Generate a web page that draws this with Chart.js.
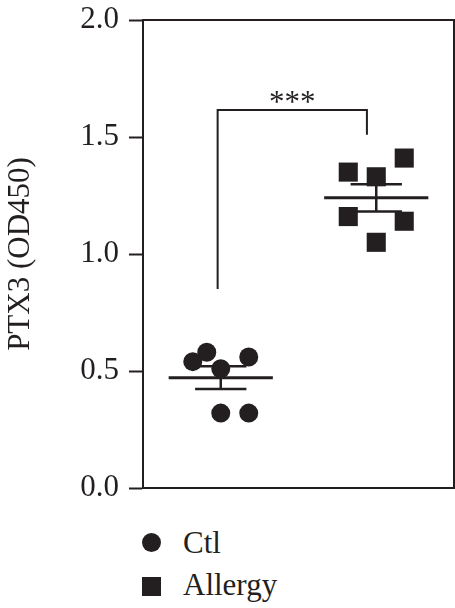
<!DOCTYPE html>
<html>
<head>
<meta charset="utf-8">
<script src="https://cdn.jsdelivr.net/npm/chart.js@4.4.0/dist/chart.umd.min.js"></script>
<style>
  html, body { margin: 0; padding: 0; background: #fff; }
  #wrap { position: relative; width: 455px; height: 608px; }
  #box { position: absolute; left: 0; top: 0; width: 455px; height: 520px; }
  .mark { position: absolute; left: 142px; width: 19px; height: 19px; background: #231f20; }
  .txt { position: absolute; left: 183px; height: 31px; line-height: 31px;
         font-family: "Liberation Serif", "DejaVu Serif", serif; font-size: 31px; color: #231f20; white-space: nowrap; }
</style>
</head>
<body>
<div id="wrap">
  <div id="box"><canvas id="chart-ptx3"></canvas></div>
  <div class="mark" style="top:533px;border-radius:50%"></div>
  <div class="txt" style="top:527px">Ctl</div>
  <div class="mark" style="top:577px"></div>
  <div class="txt" style="top:569px">Allergy</div>
</div>
<script>
// values
const groups = ['Ctl', 'Allergy'];
const ctl = [0.54, 0.58, 0.51, 0.56, 0.32, 0.32];
const allergy = [1.35, 1.33, 1.41, 1.16, 1.14, 1.05];
// horizontal scatter of the dots inside each group
const ctlJitter = [-0.18, -0.09, 0, 0.18, 0, 0.18];
const allergyJitter = [-0.18, 0, 0.18, -0.18, 0.18, 0];
const yTicks = [0, 0.5, 1.0, 1.5, 2.0];

const ink = '#231f20';
const serif = '"Liberation Serif", "DejaVu Serif", serif';

function meanSem(arr) {
  const m = arr.reduce((a, b) => a + b, 0) / arr.length;
  const sd = Math.sqrt(arr.reduce((a, b) => a + (b - m) * (b - m), 0) / (arr.length - 1));
  return [m, sd / Math.sqrt(arr.length)];
}

const stats = [meanSem(ctl), meanSem(allergy)];

// mean line + SEM whiskers
const errorBars = {
  id: 'errorBars',
  beforeDatasetsDraw(chart) {
    const { ctx, scales: { x, y } } = chart;
    ctx.save();
    ctx.strokeStyle = ink;
    stats.forEach(([m, sem], i) => {
      const g = i + 1;
      const cx = x.getPixelForValue(g);
      ctx.lineWidth = 3;
      ctx.beginPath();
      ctx.moveTo(x.getPixelForValue(g - 0.335), y.getPixelForValue(m));
      ctx.lineTo(x.getPixelForValue(g + 0.335), y.getPixelForValue(m));
      ctx.stroke();
      ctx.lineWidth = 2.5;
      ctx.beginPath();
      ctx.moveTo(cx, y.getPixelForValue(m - sem));
      ctx.lineTo(cx, y.getPixelForValue(m + sem));
      [m - sem, m + sem].forEach(v => {
        ctx.moveTo(x.getPixelForValue(g - 0.165), y.getPixelForValue(v));
        ctx.lineTo(x.getPixelForValue(g + 0.165), y.getPixelForValue(v));
      });
      ctx.stroke();
    });
    ctx.restore();
  }
};

// frame round the plot and the significance bracket
const frameAndBracket = {
  id: 'frameAndBracket',
  afterDraw(chart) {
    const { ctx, chartArea: a, scales: { x, y } } = chart;
    ctx.save();
    ctx.strokeStyle = ink;
    ctx.lineWidth = 2;
    ctx.strokeRect(a.left, a.top, a.right - a.left, a.bottom - a.top);

    const xl = x.getPixelForValue(0.98), xr = x.getPixelForValue(1.94);
    const yt = y.getPixelForValue(1.615);
    ctx.beginPath();
    ctx.moveTo(xl, y.getPixelForValue(0.85));
    ctx.lineTo(xl, yt);
    ctx.lineTo(xr, yt);
    ctx.lineTo(xr, y.getPixelForValue(1.51));
    ctx.stroke();

    ctx.fillStyle = ink;
    ctx.font = '31px ' + serif;
    ctx.textAlign = 'center';
    ctx.textBaseline = 'alphabetic';
    ctx.fillText('***', (xl + xr) / 2, yt + 2);
    ctx.restore();
  }
};

new Chart(document.getElementById('chart-ptx3'), {
  type: 'scatter',
  data: {
    datasets: [
      {
        label: groups[0],
        data: ctl.map((v, i) => ({ x: 1 + ctlJitter[i], y: v })),
        pointStyle: 'circle',
        pointRadius: 9.5,
        backgroundColor: ink,
        borderColor: ink,
        borderWidth: 0
      },
      {
        label: groups[1],
        data: allergy.map((v, i) => ({ x: 2 + allergyJitter[i], y: v })),
        pointStyle: 'rect',
        pointRadius: 13.5,
        backgroundColor: ink,
        borderColor: ink,
        borderWidth: 0
      }
    ]
  },
  options: {
    responsive: true,
    maintainAspectRatio: false,
    animation: false,
    layout: { autoPadding: false, padding: { top: 20, right: 1, bottom: 32, left: 0 } },
    plugins: { legend: { display: false }, tooltip: { enabled: false } },
    scales: {
      x: { type: 'linear', min: 0.5, max: 2.5, display: false },
      y: {
        min: 0,
        max: 2,
        afterBuildTicks: s => { s.ticks = yTicks.map(v => ({ value: v })); },
        afterFit: s => { s.width = 143; s.paddingTop = 0; s.paddingBottom = 0; },
        ticks: {
          callback: v => Number(v).toFixed(1),
          font: { family: serif, size: 31 },
          color: ink,
          padding: 10
        },
        grid: { drawOnChartArea: false, tickLength: 14, tickWidth: 2, tickColor: ink },
        border: { display: true, color: ink, width: 2 },
        title: {
          display: true,
          text: 'PTX3 (OD450)',
          font: { family: serif, size: 31 },
          color: ink,
          padding: { top: 2, bottom: 0 }
        }
      }
    }
  },
  plugins: [errorBars, frameAndBracket]
});
</script>
</body>
</html>
